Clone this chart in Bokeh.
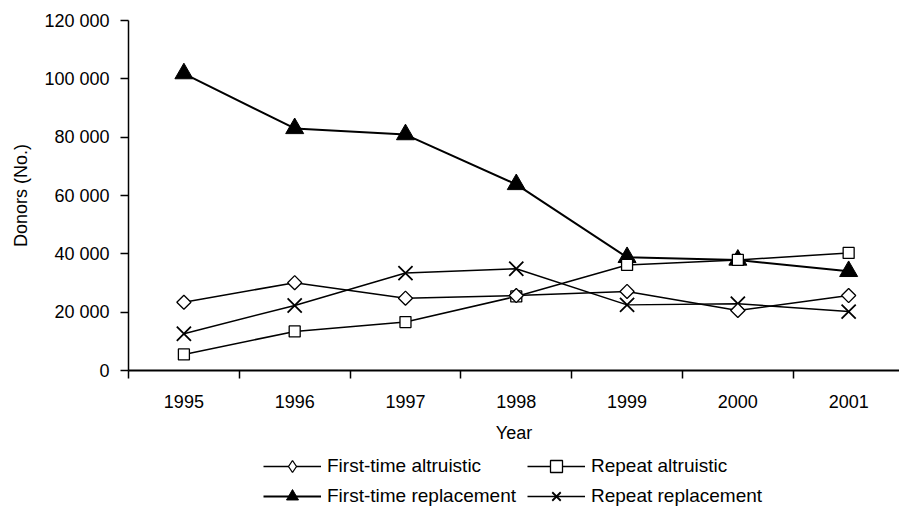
from bokeh.plotting import figure
from bokeh.models import FixedTicker, Range1d, Legend, LegendItem
from bokeh.layouts import column
from bokeh.embed import file_html
from bokeh.resources import INLINE

years = [1995, 1996, 1997, 1998, 1999, 2000, 2001]
first_time_altruistic = [23400, 30100, 24800, 25700, 27100, 20600, 25700]
repeat_altruistic = [5500, 13400, 16600, 25400, 36200, 37900, 40300]
first_time_replacement = [101800, 83000, 80900, 63800, 38800, 37900, 34000]
repeat_replacement = [12600, 22300, 33400, 34900, 22500, 22900, 20200]

series_names = ["First-time altruistic", "Repeat altruistic",
                "First-time replacement", "Repeat replacement"]

y_ticks = [0, 20000, 40000, 60000, 80000, 100000, 120000]
y_tick_labels = ["0", "20 000", "40 000", "60 000", "80 000", "100 000", "120 000"]
x_bounds = [1994.5, 1995.5, 1996.5, 1997.5, 1998.5, 1999.5, 2000.5, 2001.5]

FONT = "Liberation Sans"

p = figure(width=899, height=450, output_backend="svg", toolbar_location=None,
           x_range=Range1d(1994.5, 2001.459), y_range=Range1d(0, 120000),
           min_border_left=128, min_border_right=0, min_border_top=20,
           min_border_bottom=80)
p.outline_line_color = None
p.grid.visible = False
p.background_fill_color = "white"
p.border_fill_color = "white"

# x axis
xa = p.xaxis[0]
xa.ticker = FixedTicker(ticks=years, minor_ticks=x_bounds)
xa.major_tick_out = 0
xa.major_tick_in = 0
xa.minor_tick_out = 8
xa.minor_tick_in = 0
xa.minor_tick_line_color = "black"
xa.minor_tick_line_width = 1.5
xa.axis_line_width = 2
xa.axis_line_color = "black"
xa.major_label_standoff = 16
xa.major_label_text_font = FONT
xa.major_label_text_font_size = "18px"
xa.major_label_text_color = "black"
xa.axis_label = "Year"
xa.axis_label_text_font = FONT
xa.axis_label_text_font_size = "18px"
xa.axis_label_text_font_style = "normal"
xa.axis_label_text_color = "black"
xa.axis_label_standoff = 12

# y axis
ya = p.yaxis[0]
ya.ticker = FixedTicker(ticks=y_ticks, minor_ticks=[])
ya.major_label_overrides = {t: l for t, l in zip(y_ticks, y_tick_labels)}
ya.major_tick_out = 8
ya.major_tick_in = 0
ya.major_tick_line_width = 1.5
ya.axis_line_width = 1.5
ya.axis_line_color = "black"
ya.major_label_standoff = 11
ya.major_label_text_font = FONT
ya.major_label_text_font_size = "18px"
ya.major_label_text_color = "black"
ya.axis_label = "Donors (No.)"
ya.axis_label_text_font = FONT
ya.axis_label_text_font_size = "18px"
ya.axis_label_text_font_style = "normal"
ya.axis_label_text_color = "black"
ya.axis_label_standoff = 10

styles = {
    "ftr": dict(marker="triangle", size=18, fill_color="black", line_width=1, angle=0.0, lw=2),
    "rr": dict(marker="x", size=20, fill_color=None, line_width=1.8, angle=0.0, lw=1.5),
    "ra": dict(marker="square", size=11, fill_color="white", line_width=1.3, angle=0.0, lw=1.5),
    "fta": dict(marker="square", size=10, fill_color="white", line_width=1.3, angle=0.785398, lw=1.5),
}


def draw(fig, xs, ys, st, marker=None):
    ln = fig.line(xs, ys, line_color="black", line_width=st["lw"])
    mk = fig.scatter(xs, ys, marker=marker or st["marker"], size=st["size"], angle=st["angle"],
                     fill_color=st["fill_color"], line_color="black",
                     line_width=st["line_width"])
    return ln, mk


# draw order so white markers sit on top
draw(p, years, first_time_replacement, styles["ftr"])
draw(p, years, repeat_replacement, styles["rr"])
draw(p, years, repeat_altruistic, styles["ra"])
draw(p, years, first_time_altruistic, styles["fta"])

# legend strip below the chart (its ranges keep the series themselves out of view)
lf = figure(width=899, height=62, output_backend="svg", toolbar_location=None,
            x_range=Range1d(0, 1), y_range=Range1d(0, 1),
            x_axis_type=None, y_axis_type=None,
            min_border_left=0, min_border_right=0, min_border_top=0, min_border_bottom=0)
lf.outline_line_color = None
lf.grid.visible = False

r_fta = draw(lf, years, first_time_altruistic, styles["fta"], marker="diamond")
r_ra = draw(lf, years, repeat_altruistic, styles["ra"])
r_ftr = draw(lf, years, first_time_replacement, styles["ftr"])
r_rr = draw(lf, years, repeat_replacement, styles["rr"])

legend = Legend(items=[
    LegendItem(label=series_names[0], renderers=list(r_fta)),
    LegendItem(label=series_names[1], renderers=list(r_ra)),
    LegendItem(label=series_names[2], renderers=list(r_ftr)),
    LegendItem(label=series_names[3], renderers=list(r_rr)),
], location=(135, 1), orientation="horizontal", ncols=2,
    glyph_width=58, glyph_height=30, label_standoff=6, label_width=200, spacing=0,
    padding=0, margin=0, border_line_color=None, background_fill_alpha=0,
    label_text_font=FONT, label_text_font_size="19px", label_text_color="black")
lf.add_layout(legend, "center")

layout = column(p, lf, spacing=0)
open("out.html", "w").write(file_html(layout, INLINE))
